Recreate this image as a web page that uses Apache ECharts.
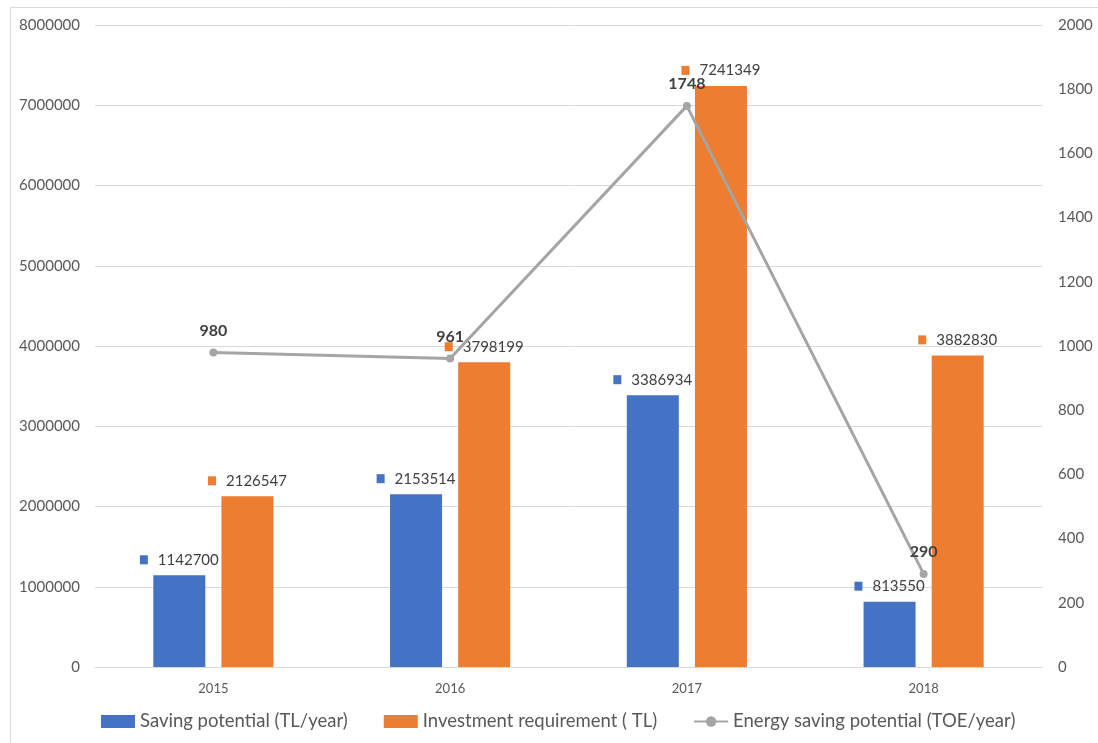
<!DOCTYPE html>
<html>
<head>
<meta charset="utf-8">
<script src="https://cdn.jsdelivr.net/npm/echarts@6/dist/echarts.min.js"></script>
<style>
  html, body { margin: 0; padding: 0; background: #fff; }
  #chart { width: 1098px; height: 743px; }
</style>
</head>
<body>
<div id="chart"></div>
<script>
// Years on the category axis
const years = ['2015', '2016', '2017', '2018'];
// Yearly monetary saving potential (TL/year)
const savingPotential = [1142700, 2153514, 3386934, 813550];
// Investment requirement (TL)
const investmentRequirement = [2126547, 3798199, 7241349, 3882830];
// Energy saving potential (TOE/year), right axis
const energySaving = [980, 961, 1748, 290];

const FONT = 'Lato, "Open Sans", sans-serif';
const BLUE = '#4472C4';
const ORANGE = '#ED7D31';
const GRAY = '#A5A5A5';

// Value label preceded by a small colour key, as in the data-label style
function keyedLabel(color) {
  return {
    show: true,
    position: 'top',
    distance: 8,
    formatter: p => '{k|}{g|}{v|' + p.value + '}',
    rich: {
      k: { width: 8, height: 9, backgroundColor: color },
      g: { width: 10 },
      v: { fontSize: 15, color: '#404040', fontFamily: FONT }
    }
  };
}

const chart = echarts.init(document.getElementById('chart'), null, { renderer: 'canvas' });
chart.setOption({
  backgroundColor: '#fff',
  animation: false,
  textStyle: { fontFamily: FONT },
  graphic: [{
    type: 'rect',
    shape: { x: 10.5, y: 7.5, width: 1200, height: 900 },
    style: { fill: 'none', stroke: '#D9D9D9', lineWidth: 1 },
    silent: true
  }],
  grid: { left: 95, right: 56, top: 25, bottom: 76 },
  legend: {
    bottom: 7,
    left: 96,
    itemWidth: 34,
    itemHeight: 13,
    itemGap: 36,
    textStyle: { fontSize: 18.5, color: '#595959', fontFamily: FONT },
    data: [
      { name: 'Saving potential (TL/year)', icon: 'rect' },
      { name: 'Investment requirement ( TL)', icon: 'rect' },
      { name: 'Energy saving potential (TOE/year)' }
    ]
  },
  xAxis: {
    type: 'category',
    data: years,
    axisLine: { show: true, lineStyle: { color: '#D9D9D9' } },
    axisTick: { show: false },
    axisLabel: { fontSize: 13, color: '#595959', margin: 15 }
  },
  yAxis: [{
    type: 'value',
    min: 0, max: 8000000, interval: 1000000,
    axisLine: { show: false },
    axisTick: { show: false },
    axisLabel: { fontSize: 15, color: '#595959', margin: 15, formatter: v => String(v) },
    splitLine: { lineStyle: { color: '#D9D9D9' } }
  }, {
    type: 'value',
    min: 0, max: 2000, interval: 200,
    position: 'right',
    axisLine: { show: false },
    axisTick: { show: false },
    axisLabel: { fontSize: 15, color: '#595959', margin: 16, formatter: v => String(v) },
    splitLine: { show: false }
  }],
  series: [{
    name: 'Saving potential (TL/year)',
    type: 'bar',
    data: savingPotential,
    barWidth: 52,
    barGap: '31%',
    itemStyle: { color: BLUE },
    label: keyedLabel(BLUE)
  }, {
    name: 'Investment requirement ( TL)',
    type: 'bar',
    data: investmentRequirement,
    barWidth: 52,
    itemStyle: { color: ORANGE },
    label: keyedLabel(ORANGE)
  }, {
    name: 'Energy saving potential (TOE/year)',
    type: 'line',
    yAxisIndex: 1,
    data: energySaving,
    z: 5,
    symbol: 'circle',
    symbolSize: 8,
    lineStyle: { color: GRAY, width: 3 },
    itemStyle: { color: GRAY },
    label: {
      show: true,
      position: 'top',
      distance: 10,
      fontSize: 16,
      fontWeight: 'bold',
      color: '#404040',
      fontFamily: FONT
    }
  }]
});
</script>
</body>
</html>
